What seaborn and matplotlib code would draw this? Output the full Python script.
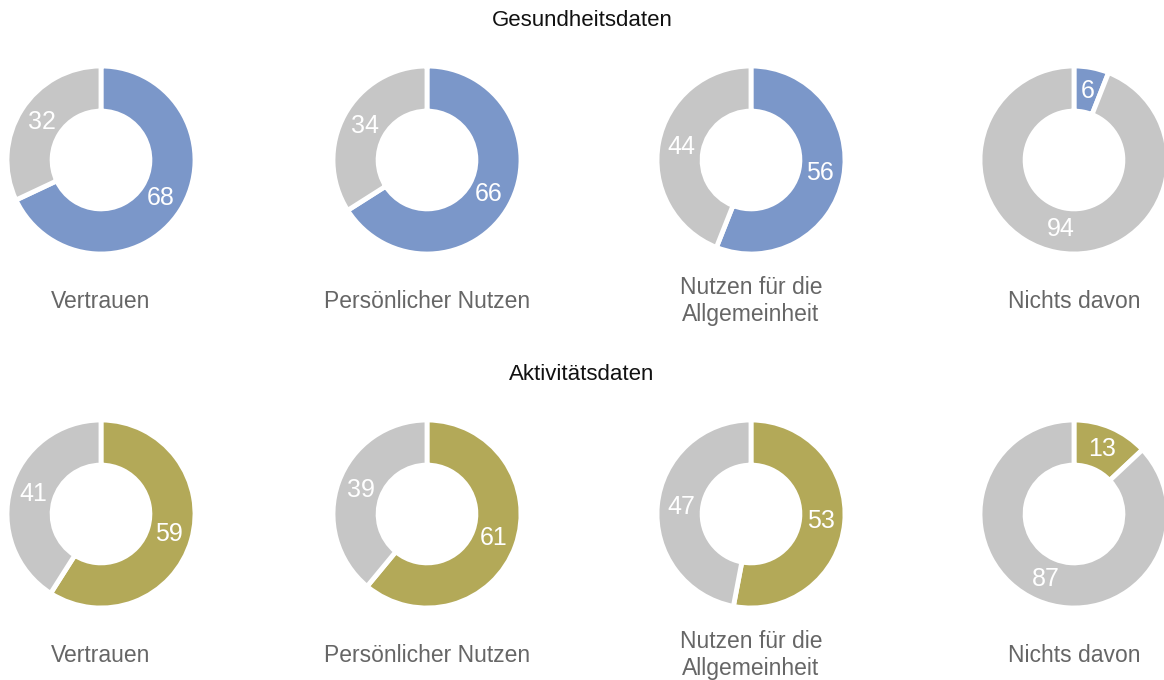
import matplotlib
matplotlib.use("Agg")
import matplotlib.pyplot as plt
import seaborn as sns

categories = ["Vertrauen", "Persönlicher Nutzen", "Nutzen für die\nAllgemeinheit", "Nichts davon"]
row_titles = ["Gesundheitsdaten", "Aktivitätsdaten"]
gesundheit = [68, 66, 56, 6]
aktivitaet = [59, 61, 53, 13]
rest_gesundheit = [32, 34, 44, 94]
rest_aktivitaet = [41, 39, 47, 87]

colors = ["#7b97c9", "#b3a958"]
grey = "#c6c6c6"

sns.set_theme(style="white")
plt.rcParams['font.family'] = ['Liberation Sans', 'DejaVu Sans']

W, H = 1164, 680
fig = plt.figure(figsize=(W / 100, H / 100), dpi=100)

col_cx = [101, 427, 751, 1074]
row_cy = [160, 514]
title_y = [21, 375]
R = 94

rows = [(gesundheit, rest_gesundheit), (aktivitaet, rest_aktivitaet)]
for r, (vals, rests) in enumerate(rows):
    fig.text(0.5, 1 - title_y[r] / H, row_titles[r], ha="center", va="center",
             fontsize=16, color="#111111")
    for c, (v, rv) in enumerate(zip(vals, rests)):
        cx, cy = col_cx[c], row_cy[r]
        ax = fig.add_axes([(cx - R) / W, 1 - (cy + R) / H, 2 * R / W, 2 * R / H])
        wedges, texts = ax.pie([v, rv], colors=[colors[r], grey], startangle=90, counterclock=False,
               labels=[str(v), str(rv)], labeldistance=0.75,
               textprops=dict(color="white", fontsize=18, ha="center", va="center"),
               wedgeprops=dict(width=0.48, edgecolor="white", linewidth=3.5),
               radius=1.0)
        for w in wedges:
            w.set_clip_on(False)
        ax.set_xlim(-1.0, 1.0)
        ax.set_ylim(-1.0, 1.0)
        ax.set_aspect("equal")
        ax.axis("off")
        fig.text(cx / W, 1 - (cy + 141) / H, categories[c], ha="center", va="center",
                 fontsize=16.5, color="#666666", linespacing=1.17)

fig.savefig("out.png", dpi=100, facecolor="white")
